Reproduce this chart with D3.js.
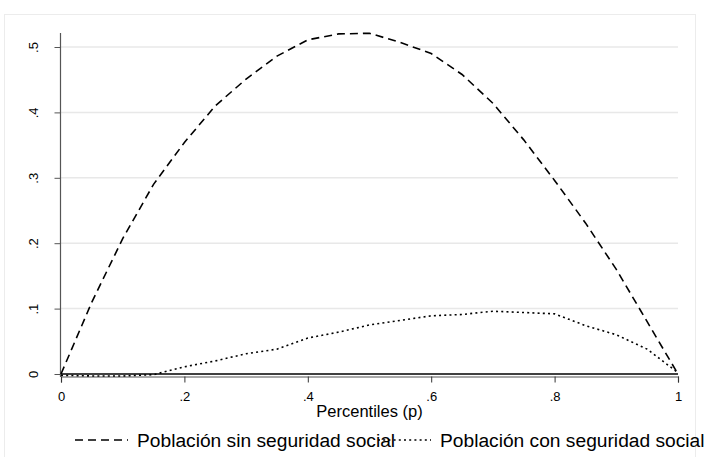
<!DOCTYPE html>
<html>
  <head>
    <meta charset="utf-8">
    <title>Curvas por percentil</title>
    <script src="https://cdn.jsdelivr.net/npm/d3@7"></script>
    <style type="text/css">
      body { margin: 0; background: #fff; }
      svg text { font-family: "Liberation Sans", Arial, sans-serif; fill: #000; }
    </style>
  </head>
  <body>
    <script>
    // chart size
    var svgWidth = 706;
    var svgHeight = 457;

    // data
    var percentiles = [0, 0.05, 0.10, 0.15, 0.20, 0.25, 0.30, 0.35, 0.40, 0.45, 0.50,
                       0.55, 0.60, 0.65, 0.70, 0.75, 0.80, 0.85, 0.90, 0.95, 1.00];
    var sinSeguridad = [0, 0.110, 0.207, 0.290, 0.354, 0.410, 0.451, 0.486, 0.511, 0.520, 0.521,
                        0.507, 0.490, 0.458, 0.414, 0.358, 0.296, 0.231, 0.160, 0.080, 0];
    var conSeguridad = [-0.002, -0.003, -0.003, -0.001, 0.011, 0.020, 0.031, 0.038, 0.055, 0.064, 0.075,
                        0.082, 0.089, 0.091, 0.096, 0.094, 0.092, 0.074, 0.060, 0.038, 0.002];

    var seriesNames = ["Población sin seguridad social", "Población con seguridad social"];
    var xTicks = [0, 0.2, 0.4, 0.6, 0.8, 1];
    var xTickLabels = ["0", ".2", ".4", ".6", ".8", "1"];
    var yTicks = [0, 0.1, 0.2, 0.3, 0.4, 0.5];
    var yTickLabels = ["0", ".1", ".2", ".3", ".4", ".5"];
    var xTitle = "Percentiles (p)";

    // plot region
    var plotLeft = 61, plotRight = 678, plotTop = 33, zeroY = 374;

    var xScale = d3.scaleLinear().domain([0, 1]).range([plotLeft, plotRight]);
    var yScale = d3.scaleLinear().domain([0, 0.5]).range([zeroY, 47]);

    var svg = d3.select("body")
      .append("svg")
        .attr("width", svgWidth)
        .attr("height", svgHeight);

    // outer graph frame
    svg.append("rect")
      .attr("x", 4.5).attr("y", 14.5)
      .attr("width", 691).attr("height", 470)
      .attr("fill", "none")
      .attr("stroke", "#ececec")
      .attr("stroke-width", 1);

    // gridlines
    svg.append("g")
      .selectAll("line")
      .data(yTicks.slice(1))
      .enter()
      .append("line")
        .attr("x1", plotLeft).attr("x2", plotRight)
        .attr("y1", function(d){ return yScale(d); })
        .attr("y2", function(d){ return yScale(d); })
        .attr("stroke", "#e8e8e8")
        .attr("stroke-width", 1.5);

    // y axis
    var yAxis = svg.append("g")
      .attr("transform", "translate(" + (plotLeft - 0.5) + ",0)")
      .call(d3.axisLeft(yScale)
        .tickValues(yTicks)
        .tickSize(6)
        .tickPadding(7)
        .tickFormat(function(d, i){ return yTickLabels[i]; }));
    yAxis.select(".domain").remove();
    yAxis.append("line")
      .attr("x1", 0).attr("x2", 0)
      .attr("y1", plotTop).attr("y2", 377)
      .attr("stroke", "#555").attr("stroke-width", 1.2);
    yAxis.selectAll(".tick line").attr("stroke", "#555");
    yAxis.selectAll(".tick text")
      .attr("font-size", "13px")
      .attr("text-anchor", "middle")
      .attr("dy", null)
      .attr("x", null)
      .attr("transform", "translate(-23,0) rotate(-90)");

    // x axis
    var xAxis = svg.append("g")
      .attr("transform", "translate(0,376.5)")
      .call(d3.axisBottom(xScale)
        .tickValues(xTicks)
        .tickSize(6)
        .tickPadding(9)
        .tickFormat(function(d, i){ return xTickLabels[i]; }));
    xAxis.select(".domain")
      .attr("stroke", "#555").attr("stroke-width", 1.2);
    xAxis.selectAll(".tick line").attr("stroke", "#333");
    xAxis.selectAll(".tick text").attr("font-size", "13px");

    svg.append("text")
      .attr("x", (plotLeft + plotRight) / 2)
      .attr("y", 417)
      .attr("text-anchor", "middle")
      .attr("font-size", "16.5px")
      .text(xTitle);

    // zero line
    svg.append("line")
      .attr("x1", plotLeft).attr("x2", plotRight)
      .attr("y1", yScale(0)).attr("y2", yScale(0))
      .attr("stroke", "#000")
      .attr("stroke-width", 1.6);

    // curves
    var line = d3.line()
      .x(function(d){ return xScale(d[0]); })
      .y(function(d){ return yScale(d[1]); });

    var series = [
      { values: d3.zip(percentiles, sinSeguridad), dash: "8,5" },
      { values: d3.zip(percentiles, conSeguridad), dash: "2,3.2" }
    ];

    svg.selectAll("path.curve")
      .data(series)
      .enter()
      .append("path")
        .attr("class", "curve")
        .attr("d", function(d){ return line(d.values); })
        .attr("fill", "none")
        .attr("stroke", "#000")
        .attr("stroke-width", 1.6)
        .attr("stroke-dasharray", function(d){ return d.dash; });

    // legend
    var legendY = 440;
    var legendItems = [
      { name: seriesNames[0], dash: "8,5", x: 75 },
      { name: seriesNames[1], dash: "2,3.2", x: 378 }
    ];
    var legend = svg.selectAll("g.legend")
      .data(legendItems)
      .enter()
      .append("g")
        .attr("class", "legend")
        .attr("transform", function(d){ return "translate(" + d.x + "," + legendY + ")"; });
    legend.append("line")
      .attr("x1", 0).attr("x2", 53)
      .attr("y1", 0).attr("y2", 0)
      .attr("stroke", "#000")
      .attr("stroke-width", 1.6)
      .attr("stroke-dasharray", function(d){ return d.dash; });
    legend.append("text")
      .attr("x", 62)
      .attr("y", 6.5)
      .attr("font-size", "19.2px")
      .text(function(d){ return d.name; });
    </script>
  </body>
</html>
